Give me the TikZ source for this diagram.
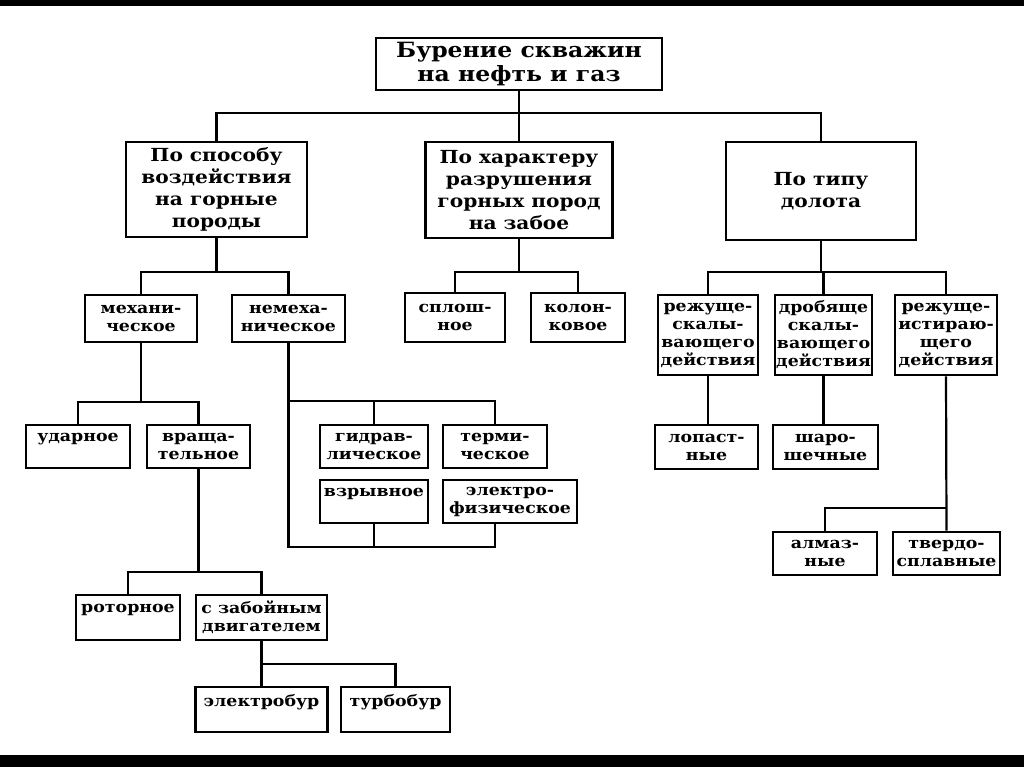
\documentclass[tikz,border=0pt]{standalone}
\usepackage{fontspec}
\newfontfamily\lab{DejaVu Serif Bold}[FakeStretch=1.12]
\tikzset{
  box/.style={draw, line width=2.6pt, inner sep=0pt, align=center, text=black},
  big/.style={box, font=\lab\fontsize{18}{22}\selectfont},
  small/.style={box, font=\lab\fontsize{15.5}{18}\selectfont},
  wire/.style={line width=2.2pt}
}
\begin{document}
\begin{tikzpicture}[x=1pt,y=-1pt]
\useasboundingbox (0,0) rectangle (1024,767);
\fill[white] (0,0) rectangle (1024,767);
\fill[black] (0,0) rectangle (1024,6);
\fill[black] (0,755) rectangle (1024,767);
% level 0
\node[big, font=\lab\fontsize{21}{24}\selectfont, minimum width=286pt, minimum height=52pt] (root) at (519,64) {Бурение скважин\\на нефть и газ};
% level 1
\node[big, minimum width=181pt, minimum height=95pt] (b1) at (216.5,189.5) {По способу\\воздействия\\на горные\\породы};
\node[big, minimum width=187pt, minimum height=96pt] (b2) at (519,190) {По характеру\\разрушения\\горных пород\\на забое};
\node[big, minimum width=190pt, minimum height=98pt] (b3) at (821,191) {По типу\\долота};
% under b1
\node[small, minimum width=112pt, minimum height=47pt] (mech) at (141,318.5) {механи-\\ческое};
\node[small, minimum width=113pt, minimum height=47pt] (nonmech) at (288.5,318.5) {немеха-\\ническое};
\node[small, minimum width=104pt, minimum height=43pt] (udar) at (78,446.5) {ударное\\\mbox{}};
\node[small, minimum width=103pt, minimum height=43pt] (vrash) at (198.5,446.5) {враща-\\тельное};
\node[small, minimum width=104pt, minimum height=45pt] (rotor) at (128,617.5) {роторное\\\mbox{}};
\node[small, minimum width=131pt, minimum height=45pt] (zab) at (261.5,617.5) {с забойным\\двигателем};
\node[small, minimum width=132pt, minimum height=45pt] (elbur) at (261.5,709.5) {электробур\\\mbox{}};
\node[small, minimum width=109pt, minimum height=45pt] (turbo) at (395.5,709.5) {турбобур\\\mbox{}};
\node[small, minimum width=108pt, minimum height=43pt] (gidr) at (374,446.5) {гидрав-\\лическое};
\node[small, minimum width=104pt, minimum height=43pt] (term) at (495,446.5) {терми-\\ческое};
\node[small, minimum width=108pt, minimum height=43pt] (vzryv) at (374,501.5) {взрывное\\\mbox{}};
\node[small, minimum width=134pt, minimum height=43pt] (elfiz) at (510,501.5) {электро-\\физическое};
% under b2
\node[small, minimum width=100pt, minimum height=49pt] (splosh) at (455,317.5) {сплош-\\ное};
\node[small, minimum width=94pt, minimum height=49pt] (kolon) at (578,317.5) {колон-\\ковое};
% under b3
\node[small, minimum width=100pt, minimum height=80pt] (rsk) at (708,335) {режуще-\\скалы-\\вающего\\действия};
\node[small, minimum width=97pt, minimum height=80pt] (dsk) at (823.5,335) {дробяще\\скалы-\\вающего\\действия};
\node[small, minimum width=102pt, minimum height=80pt] (rist) at (946,335) {режуще-\\истираю-\\щего\\действия};
\node[small, minimum width=103pt, minimum height=44pt] (lop) at (706.5,447) {лопаст-\\ные};
\node[small, minimum width=105pt, minimum height=44pt] (shar) at (825.5,447) {шаро-\\шечные};
\node[small, minimum width=104pt, minimum height=43pt] (almaz) at (825,553.5) {алмаз-\\ные};
\node[small, minimum width=107pt, minimum height=43pt] (tverd) at (946.5,553.5) {твердо-\\сплавные};
% bus coordinates
\coordinate (bus0) at (0,113);
\coordinate (bus1) at (0,272);
\coordinate (bus2) at (0,402);
\coordinate (bus3) at (0,572);
\coordinate (bus4) at (0,664);
\coordinate (bus5) at (0,401);
\coordinate (bus6) at (0,547);
\coordinate (bus7) at (0,508);
% connectors
\draw[wire] (root.south) -- (b2.north);
\draw[wire] (b1.north) -- (b1.north |- bus0) -- (b3.north |- bus0) -- (b3.north);
\draw[wire] (b1.south) -- (b1.south |- bus1);
\draw[wire] (mech.north) -- (mech.north |- bus1) -- (nonmech.north |- bus1) -- (nonmech.north);
\draw[wire] (mech.south) -- (mech.south |- bus2);
\draw[wire] (udar.north) -- (udar.north |- bus2) -- (vrash.north |- bus2) -- (vrash.north);
\draw[wire] (vrash.south) -- (vrash.south |- bus3);
\draw[wire] (rotor.north) -- (rotor.north |- bus3) -- (zab.north |- bus3) -- (zab.north);
\draw[wire] (zab.south) -- (elbur.north);
\draw[wire] (zab.south |- bus4) -- (turbo.north |- bus4) -- (turbo.north);
\draw[wire] (nonmech.south) -- (nonmech.south |- bus6) -- (term.north |- bus6) -- (term.north |- elfiz.south);
\draw[wire] (nonmech.south |- bus5) -- (term.north |- bus5) -- (term.north);
\draw[wire] (gidr.north) -- (gidr.north |- bus5);
\draw[wire] (vzryv.south) -- (vzryv.south |- bus6);
\draw[wire] (b2.south) -- (b2.south |- bus1);
\draw[wire] (splosh.north) -- (splosh.north |- bus1) -- (kolon.north |- bus1) -- (kolon.north);
\draw[wire] (b3.south) -- (b3.south |- bus1);
\draw[wire] (rsk.north) -- (rsk.north |- bus1) -- (rist.north |- bus1) -- (rist.north);
\draw[wire] (dsk.north) -- (dsk.north |- bus1);
\draw[wire] (rsk.south) -- (rsk.south |- lop.north);
\draw[wire] (dsk.south) -- (dsk.south |- shar.north);
\draw[wire] (rist.south) -- (tverd.north);
\draw[wire] (almaz.north) -- (almaz.north |- bus7) -- (rist.south |- bus7);
\end{tikzpicture}
\end{document}
